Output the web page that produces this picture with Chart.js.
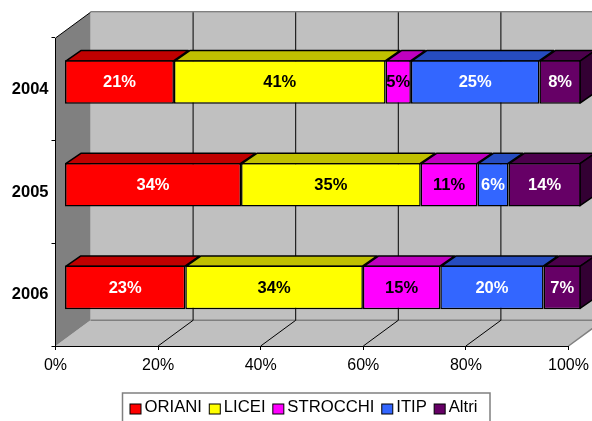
<!DOCTYPE html>
<html>
<head>
<meta charset="utf-8">
<style>html,body{margin:0;padding:0;background:#fff}canvas{display:block}</style>
<script src="https://cdn.jsdelivr.net/npm/chart.js@4"></script>
</head>
<body>
<canvas id="c" width="592" height="421"></canvas>
<script>
const years = ["2004", "2005", "2006"];
const oriani = [21.2, 34.2, 23.4];
const licei = [41, 34.8, 34.4];
const strocchi = [4.9, 11, 15];
const itip = [24.9, 6, 20];
const altri = [8, 14, 7.2];
const xTicks = [0, 20, 40, 60, 80, 100];

const FONT = '"Liberation Sans", Arial, sans-serif';
const WALL = {dx: 35, dy: -25.7};       // depth of the plot box
const BAR_SHIFT = {dx: 9, dy: -7.3, k: 1.0063};   // bar front face inside the box
const BAR_DEPTH = {dx: 15, dy: -10.4};  // depth of each bar

function series(label, data, color, top, labelColor) {
  return {label, data, backgroundColor: color, borderColor: '#000', borderWidth: 1.5,
          borderSkipped: false, topColor: top, labelColor, stack: 's',
          barPercentage: 0.424, categoryPercentage: 1};
}

const walls = {
  id: 'walls',
  beforeDraw(chart) {
    const {ctx, chartArea: a, scales: {x}} = chart;
    const {dx, dy} = WALL;
    ctx.save();
    ctx.fillStyle = '#fff';
    ctx.fillRect(0, 0, chart.width, chart.height);
    // back wall
    ctx.fillStyle = '#c0c0c0';
    ctx.fillRect(a.left + dx, a.top + dy, a.width, a.height);
    // floor
    ctx.beginPath();
    ctx.moveTo(a.left, a.bottom); ctx.lineTo(a.left + dx, a.bottom + dy);
    ctx.lineTo(a.right + dx, a.bottom + dy); ctx.lineTo(a.right, a.bottom);
    ctx.closePath(); ctx.fill();
    // side wall
    ctx.fillStyle = '#808080';
    ctx.beginPath();
    ctx.moveTo(a.left, a.top); ctx.lineTo(a.left + dx, a.top + dy);
    ctx.lineTo(a.left + dx, a.bottom + dy); ctx.lineTo(a.left, a.bottom);
    ctx.closePath(); ctx.fill();
    // gray edges
    ctx.strokeStyle = '#808080'; ctx.lineWidth = 1.5;
    ctx.beginPath();
    ctx.moveTo(a.left + dx, a.top + dy - 0.5); ctx.lineTo(a.right + dx, a.top + dy - 0.5);
    ctx.moveTo(a.left + dx, a.bottom + dy); ctx.lineTo(a.right + dx, a.bottom + dy);
    ctx.moveTo(a.right, a.bottom); ctx.lineTo(a.right + dx, a.bottom + dy);
    ctx.stroke();
    // grid lines
    ctx.strokeStyle = '#000'; ctx.lineWidth = 1;
    ctx.beginPath();
    xTicks.forEach(t => {
      const p = x.getPixelForValue(t);
      if (t > 0) {
        if (t < 100) { ctx.moveTo(p, a.bottom); ctx.lineTo(p + dx, a.bottom + dy); }
        ctx.moveTo(p + dx, a.bottom + dy); ctx.lineTo(p + dx, a.top + dy);
      }
    });
    ctx.moveTo(a.left, a.top); ctx.lineTo(a.left + dx, a.top + dy);
    ctx.stroke();
    ctx.restore();
  }
};

const bars3d = {
  id: 'bars3d',
  beforeDatasetDraw(chart, args) {
    const ctx = chart.ctx;
    const left = chart.chartArea.left;
    ctx.save();
    ctx.translate(BAR_SHIFT.dx + left, BAR_SHIFT.dy);
    ctx.scale(BAR_SHIFT.k, 1);
    ctx.translate(-left, 0);
    // top and side faces belong behind the front faces
    const ds = chart.data.datasets[args.index];
    const last = args.index === chart.data.datasets.length - 1;
    args.meta.data.forEach(el => {
      const p = el.getProps(['x', 'y', 'base', 'height'], true);
      const t = p.y - p.height / 2 + 0.75, b = p.y + p.height / 2 - 0.75;
      const {dx, dy} = BAR_DEPTH;
      const x0 = p.base + 0.75, x1 = p.x - 0.75;
      ctx.lineWidth = 1.5; ctx.strokeStyle = '#000'; ctx.lineJoin = 'round';
      ctx.fillStyle = ds.topColor;
      ctx.beginPath();
      ctx.moveTo(x0, t); ctx.lineTo(x0 + dx, t + dy);
      ctx.lineTo(x1 + dx, t + dy); ctx.lineTo(x1, t); ctx.closePath();
      ctx.fill(); ctx.stroke();
      if (last) {
        ctx.fillStyle = '#330033';
        ctx.beginPath();
        ctx.moveTo(x1, t); ctx.lineTo(x1 + dx, t + dy);
        ctx.lineTo(x1 + dx, b + dy); ctx.lineTo(x1, b); ctx.closePath();
        ctx.fill(); ctx.stroke();
      }
    });
  },
  afterDatasetDraw(chart) { chart.ctx.restore(); },
  afterDatasetsDraw(chart) {
    const ctx = chart.ctx;
    const left = chart.chartArea.left;
    ctx.save();
    ctx.font = 'bold 16.5px ' + FONT;
    ctx.textAlign = 'center'; ctx.textBaseline = 'middle';
    chart.data.datasets.forEach((ds, i) => {
      chart.getDatasetMeta(i).data.forEach((el, j) => {
        const p = el.getProps(['x', 'y', 'base'], true);
        const mid = (p.x + p.base) / 2;
        ctx.fillStyle = ds.labelColor;
        ctx.fillText(Math.round(ds.data[j]) + '%',
          left + (mid - left) * BAR_SHIFT.k + BAR_SHIFT.dx, p.y + BAR_SHIFT.dy + 0.8);
      });
    });
    ctx.restore();
  }
};

const boxLegend = {
  id: 'boxLegend',
  afterDraw(chart) {
    const ctx = chart.ctx;
    ctx.save();
    ctx.strokeStyle = '#808080'; ctx.lineWidth = 1.5;
    ctx.fillStyle = '#fff';
    ctx.beginPath();
    ctx.moveTo(122.5, 425); ctx.lineTo(122.5, 393); ctx.lineTo(490, 393); ctx.lineTo(490, 425);
    ctx.fill(); ctx.stroke();
    ctx.font = '16.7px ' + FONT;
    ctx.textBaseline = 'middle'; ctx.textAlign = 'left';
    let x = 130;
    chart.data.datasets.forEach(ds => {
      ctx.fillStyle = ds.backgroundColor;
      ctx.strokeStyle = '#000'; ctx.lineWidth = 1;
      ctx.fillRect(x, 404, 11, 10);
      ctx.strokeRect(x, 404, 11, 10);
      ctx.fillStyle = '#000';
      ctx.fillText(ds.label, x + 14.5, 407.5);
      x += 14.5 + ctx.measureText(ds.label).width + 7.3;
    });
    ctx.restore();
  }
};

new Chart(document.getElementById('c'), {
  type: 'bar',
  data: {
    labels: years,
    datasets: [
      series('ORIANI', oriani, '#ff0000', '#c00000', '#fff'),
      series('LICEI', licei, '#ffff00', '#c0c000', '#000'),
      series('STROCCHI', strocchi, '#ff00ff', '#c000c0', '#000'),
      series('ITIP', itip, '#3366ff', '#264cc0', '#fff'),
      series('Altri', altri, '#660066', '#4c004c', '#fff')
    ]
  },
  options: {
    indexAxis: 'y',
    responsive: false,
    animation: false,
    layout: {padding: {top: 38, right: 23.5, left: 0, bottom: 0}},
    plugins: {legend: {display: false}, tooltip: {enabled: false}},
    scales: {
      x: {
        stacked: true, min: 0, max: 100,
        afterFit: s => { s.height = 75; s.paddingRight = 0; s.paddingLeft = 0; },
        afterBuildTicks: s => { s.ticks = xTicks.map(v => ({value: v})); },
        ticks: {callback: v => v + '%', color: '#000', font: {family: FONT, size: 16}, padding: 6,
                maxRotation: 0, autoSkip: false},
        grid: {drawOnChartArea: false, drawTicks: true, tickLength: 4, color: '#000'},
        border: {color: '#000', width: 1}
      },
      y: {
        stacked: true,
        afterFit: s => { s.width = 55.5; s.paddingTop = 0; s.paddingBottom = 0; },
        ticks: {color: '#000', font: {family: FONT, size: 16.5, weight: 'bold'}, padding: 3},
        grid: {drawOnChartArea: false, drawTicks: true, tickLength: 4, color: '#000'},
        border: {color: '#000', width: 1}
      }
    }
  },
  plugins: [walls, bars3d, boxLegend]
});
</script>
</body>
</html>
